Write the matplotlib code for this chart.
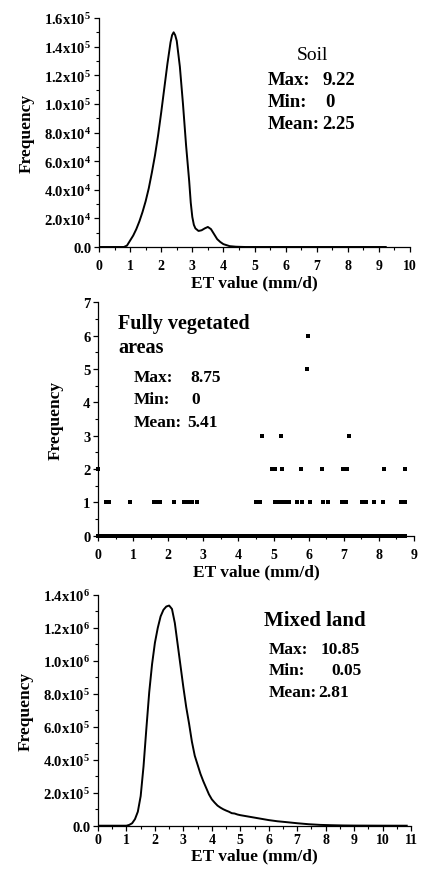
import matplotlib
matplotlib.use("Agg")
import matplotlib.pyplot as plt
from matplotlib.ticker import MultipleLocator, FuncFormatter
import numpy as np

plt.rcParams['font.family'] = ['Liberation Serif', 'DejaVu Serif']
plt.rcParams['font.weight'] = 'bold'
plt.rcParams['mathtext.fontset'] = 'custom'
plt.rcParams['mathtext.rm'] = 'Liberation Serif:bold'
plt.rcParams['mathtext.default'] = 'regular'

# Soil ET distribution (frequency in 1e4)
soil_x = [0, 0.8, 0.9, 1.0, 1.1, 1.2, 1.3, 1.4, 1.5, 1.6, 1.7, 1.8, 1.9, 2.0,
          2.1, 2.2, 2.3, 2.35, 2.4, 2.45, 2.5, 2.6, 2.7, 2.8, 2.9, 2.95, 3.0, 3.05,
          3.1, 3.2, 3.3, 3.4, 3.5, 3.6, 3.7, 3.8, 3.9, 4.0, 4.2, 4.4, 4.7, 5.0, 9.22]
soil_y = [0, 0, 0.1, 0.45, 0.8, 1.25, 1.8, 2.45, 3.2, 4.1, 5.2, 6.4, 7.8, 9.4,
          11.1, 12.8, 14.3, 14.8, 15.0, 14.8, 14.4, 12.6, 10.0, 7.1, 4.6, 3.1, 2.1, 1.55,
          1.3, 1.12, 1.17, 1.3, 1.4, 1.25, 0.9, 0.55, 0.35, 0.2, 0.06, 0.02, 0.0, 0.0, 0]

# Fully vegetated areas: ET values with non-zero counts
veg_f1 = [0.22, 0.30, 0.90, 1.59, 1.67, 1.76, 2.16, 2.46, 2.57, 2.69, 2.81,
          4.50, 4.62, 5.05, 5.13, 5.21, 5.29, 5.37, 5.45, 5.67, 5.81, 6.03,
          6.41, 6.54, 6.95, 7.05, 7.52, 7.62, 7.86, 8.11, 8.64, 8.73]
veg_f2 = [0.0, 4.95, 5.05, 5.23, 5.78, 6.37, 6.99, 7.08, 8.15, 8.75]
veg_f3 = [4.66, 5.20, 7.15]
veg_f5 = [5.94]
veg_f6 = [5.99]

# Mixed land ET distribution (frequency in 1e5)
mix_x = [0, 1.0, 1.1, 1.2, 1.3, 1.4, 1.5, 1.6, 1.7, 1.8, 1.9, 2.0, 2.1, 2.2,
         2.3, 2.4, 2.5, 2.6, 2.7, 2.8, 2.9, 3.0, 3.1, 3.2, 3.3, 3.4, 3.5, 3.6,
         3.7, 3.8, 3.9, 4.0, 4.1, 4.2, 4.3, 4.4, 4.5, 4.6, 4.7, 4.8, 4.9, 5.0,
         5.2, 5.4, 5.6, 5.8, 6.0, 6.3, 6.6, 7.0, 7.4, 7.8, 8.2, 8.6, 9.0, 10.0, 10.85]
mix_y = [0, 0, 0.05, 0.15, 0.4, 0.85, 1.8, 3.6, 5.9, 8.1, 9.8, 11.1, 12.0, 12.7,
         13.1, 13.3, 13.36, 13.15, 12.3, 11.0, 9.7, 8.4, 7.2, 6.2, 5.1, 4.25, 3.7, 3.15,
         2.7, 2.3, 1.9, 1.6, 1.4, 1.22, 1.1, 1.0, 0.92, 0.85, 0.76, 0.74, 0.68, 0.64,
         0.58, 0.52, 0.46, 0.4, 0.34, 0.27, 0.22, 0.15, 0.09, 0.05, 0.03, 0.015, 0.008, 0.002, 0]


def sci_fmt(v, pos):
    if abs(v) < 1e-6:
        return '0.0'
    if v < 0:
        return ''
    e = int(np.floor(np.log10(v) + 1e-9))
    return f'{v / 10**e:.1f}x10$^{{{e}}}$'


def style(ax, xmax, ymax, ymajor, yminor, xpad, sci=True):
    for s in ['top', 'right']:
        ax.spines[s].set_visible(False)
    for s in ['left', 'bottom']:
        ax.spines[s].set_linewidth(0.9)
    ax.set_xlim(0, xmax)
    ax.set_ylim(0, ymax)
    ax.xaxis.set_major_locator(MultipleLocator(1))
    ax.xaxis.set_minor_locator(MultipleLocator(0.5))
    ax.yaxis.set_major_locator(MultipleLocator(ymajor))
    ax.yaxis.set_minor_locator(MultipleLocator(yminor))
    if sci:
        ax.yaxis.set_major_formatter(FuncFormatter(sci_fmt))
    ax.tick_params(which='major', direction='out', length=3.5, width=0.9)
    ax.tick_params(which='minor', direction='out', length=2, width=0.8)
    ax.tick_params(axis='y', which='major', labelsize=10.5, pad=2)
    ax.tick_params(axis='x', which='major', labelsize=10, pad=xpad)
    ax.set_xlabel('ET value (mm/d)', fontsize=12.5, fontweight='bold')
    ax.set_ylabel('Frequency', fontsize=12.5, fontweight='bold')


fig = plt.figure(figsize=(4.21, 8.70), dpi=100)
W, H = 421, 870


def px(x, y):
    return x / W, 1 - y / H


# Panel 1: soil
ax1 = fig.add_axes([99 / W, 1 - 248 / H, 311 / W, 229 / H])
ax1.plot(soil_x, np.array(soil_y) * 1e4, color='black', lw=1.4)
style(ax1, 10, 1.6e5, 2e4, 1e4, xpad=5.5)
ax1.yaxis.set_label_coords(-0.206, 0.5)
ax1.xaxis.set_label_coords(0.5, -0.12)

# Panel 2: fully vegetated
ax2 = fig.add_axes([98 / W, 1 - 536.7 / H, 316 / W, 233.4 / H])
bins = np.round(np.arange(0, 8.76, 0.01), 2)
ax2.plot(bins, np.zeros_like(bins), 's', color='black', ms=2.4, mew=0, clip_on=False)
for freq, xs in [(1, veg_f1), (2, veg_f2), (3, veg_f3), (5, veg_f5), (6, veg_f6)]:
    ax2.plot(xs, [freq] * len(xs), 's', color='black', ms=2.8, mew=0, clip_on=False)
style(ax2, 9, 7, 1, 0.5, xpad=5, sci=False)
ax2.yaxis.set_label_coords(-0.108, 0.5)
ax2.xaxis.set_label_coords(0.5, -0.118)

# Panel 3: mixed land
ax3 = fig.add_axes([98 / W, 1 - 826.7 / H, 313 / W, 230.7 / H])
ax3.plot(mix_x, np.array(mix_y) * 1e5, color='black', lw=1.4)
style(ax3, 11, 1.4e6, 2e5, 1e5, xpad=2)
ax3.yaxis.set_label_coords(-0.204, 0.5)
ax3.xaxis.set_label_coords(0.5, -0.095)

# Annotations
fig.text(*px(296.7, 60), 'Soil', fontsize=14, fontweight='normal', va='baseline')
for lab, val, y, vx in [('Max:', '9.22', 85, 322.7), ('Min:', '0', 107, 325),
                        ('Mean:', '2.25', 129, 322.7)]:
    fig.text(*px(267.3, y), lab, fontsize=13.5, va='baseline')
    fig.text(*px(vx, y), val, fontsize=13.5, va='baseline')

fig.text(*px(118, 329.3), 'Fully vegetated', fontsize=14.5, va='baseline')
fig.text(*px(118, 353.3), 'areas', fontsize=14.5, va='baseline')
for lab, val, y, vx in [('Max:', '8.75', 381.7, 190), ('Min:', '0', 404.3, 191.7),
                        ('Mean:', '5.41', 426.7, 187.3)]:
    fig.text(*px(133.3, y), lab, fontsize=12.5, va='baseline')
    fig.text(*px(vx, y), val, fontsize=12.5, va='baseline')

fig.text(*px(264.3, 626), 'Mixed land', fontsize=15, va='baseline')
for lab, val, y, vx in [('Max:', '10.85', 654, 320.7), ('Min:', '0.05', 675, 331),
                        ('Mean:', '2.81', 696.7, 318.3)]:
    fig.text(*px(268.3, y), lab, fontsize=12.5, va='baseline')
    fig.text(*px(vx, y), val, fontsize=12.5, va='baseline')

fig.savefig('out.png', dpi=100)
